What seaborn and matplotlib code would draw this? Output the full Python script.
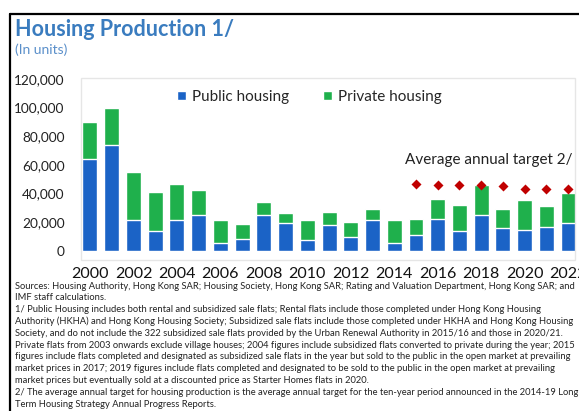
import pandas as pd
import matplotlib.pyplot as plt
import seaborn as sns
from matplotlib.lines import Line2D
from matplotlib.patches import Rectangle

# Housing production in units
years = list(range(2000, 2023))
public = [63900, 73700, 21400, 13900, 21200, 24900, 5100, 8400, 24900, 19500,
          7500, 17900, 9800, 21200, 5600, 10700, 21900, 13700, 24900, 16000,
          14200, 16500, 19500]
total = [89700, 99900, 55000, 40700, 46700, 42100, 21200, 18600, 34100, 26500,
         21200, 27000, 19800, 29000, 21200, 22300, 36200, 31800, 45600, 29300,
         35100, 30900, 40200]
target_years = [2015, 2016, 2017, 2018, 2019, 2020, 2021, 2022]
target = [46700, 45800, 45800, 45800, 45100, 43200, 43200, 43200]

notes = [
    "Sources: Housing Authority, Hong Kong SAR; Housing Society, Hong Kong SAR; Rating and Valuation Department, Hong Kong SAR; and",
    "IMF staff calculations.",
    "1/ Public Housing includes both rental and subsidized sale flats; Rental flats include those completed under Hong Kong Housing",
    "Authority (HKHA) and Hong Kong Housing Society; Subsidized sale flats include those completed under HKHA and Hong Kong Housing",
    "Society, and do not include the 322 subsidized sale flats provided by the Urban Renewal Authority in 2015/16 and those in 2020/21.",
    "Private flats from 2003 onwards exclude village houses; 2004 figures include subsidized flats converted to private during the year; 2015",
    "figures include flats completed and designated as subsidized sale flats in the year but sold to the public in the open market at prevailing",
    "market prices in 2017; 2019 figures include flats completed and designated to be sold to the public in the open market at prevailing",
    "market prices but eventually sold at a discounted price as Starter Homes flats in 2020.",
    "2/ The average annual target for housing production is the average annual target for the ten-year period announced in the 2014-19 Long",
    "Term Housing Strategy Annual Progress Reports.",
]

df = pd.DataFrame({"year": years, "public": public, "total": total})
tg = pd.DataFrame({"year": target_years, "target": target})

sns.set_style("white")
plt.rcParams['font.family'] = ['Lato', 'DejaVu Sans']

W, H = 579, 411
fig = plt.figure(figsize=(W / 100, H / 100), dpi=100)

# faint plot-area box
fig.add_artist(Rectangle((81 / W, 1 - 260 / H), (575 - 81) / W, (260 - 78) / H,
                         transform=fig.transFigure, fill=False,
                         edgecolor='#e6e6e6', linewidth=1))
# black frame on left/top
fig.add_artist(Line2D([10 / W, 10 / W], [0, 1 - 14 / H], transform=fig.transFigure,
                      color='black', linewidth=1.6))
fig.add_artist(Line2D([10 / W, 1], [1 - 14 / H, 1 - 14 / H], transform=fig.transFigure,
                      color='black', linewidth=1.6))

ax = fig.add_axes([80 / W, 1 - 250.7 / H, (W - 80) / W, (250.7 - 79) / H])

green = '#1fb04c'
blue = '#1b63c6'
sns.barplot(data=df, x="year", y="total", native_scale=True, color=green,
            width=0.69, saturation=1, label="Private housing", ax=ax)
sns.barplot(data=df, x="year", y="public", native_scale=True, color=blue,
            width=0.69, saturation=1, label="Public housing", ax=ax)
sns.scatterplot(data=tg, x="year", y="target", marker='D', color='#c00000',
                s=26, linewidth=0, ax=ax)

ax.set_xlim(1999.54, 2022.5)
ax.set_ylim(0, 120000)
ax.set_xticks(range(2000, 2023, 2))
ax.set_yticks(range(0, 120001, 20000))
ax.set_yticklabels([f"{v:,}" for v in range(0, 120001, 20000)])
ax.set_xlabel("")
ax.set_ylabel("")
ax.tick_params(axis='y', length=0, pad=11, labelsize=9.8, labelcolor='#222222')
ax.tick_params(axis='x', length=0, pad=12, labelsize=11.5, labelcolor='#111111')
for s in ax.spines.values():
    s.set_visible(False)
ax.patch.set_alpha(0)

h, l = ax.get_legend_handles_labels()
if ax.get_legend() is not None:
    ax.get_legend().remove()
fig.legend([h[1], h[0]], [l[1], l[0]], ncol=2, frameon=False,
           loc='center left', bbox_to_anchor=(163 / W, 1 - 97 / H),
           fontsize=11, handlelength=0.6, handleheight=0.6,
           handletextpad=0.4, columnspacing=2.2)

ax.text(2018.35, 63400, "Average annual target 2/", ha='center', va='center',
        fontsize=11, color='#222222')

fig.text(15 / W, 1 - 30 / H, "Housing Production 1/", fontsize=15.5,
         fontweight='bold', color='#3a7cbf', va='center', ha='left')
fig.text(15 / W, 1 - 50 / H, "(In units)", fontsize=10, color='#5a8fca',
         va='center', ha='left')

for i, line in enumerate(notes):
    fig.text(15 / W, 1 - (286 + i * 11.8) / H, line, fontsize=6.75,
             color='#222222', va='center', ha='left')

fig.savefig("out.png", dpi=100)
